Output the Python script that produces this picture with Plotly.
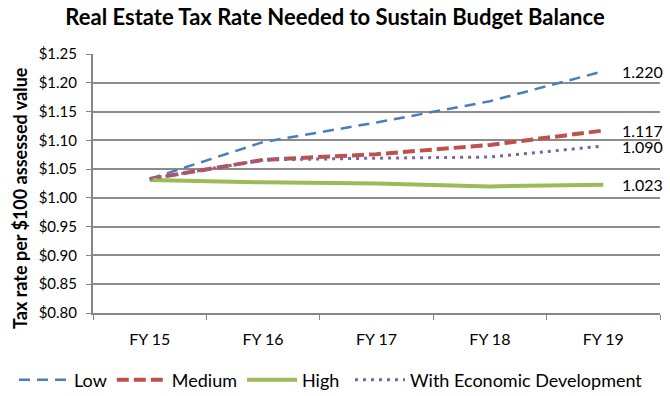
import plotly.graph_objects as go

categories = ["FY 15", "FY 16", "FY 17", "FY 18", "FY 19"]
low = [1.033, 1.097, 1.131, 1.168, 1.220]
medium = [1.033, 1.066, 1.076, 1.092, 1.117]
high = [1.031, 1.027, 1.025, 1.020, 1.023]
econ = [1.033, 1.066, 1.069, 1.071, 1.090]
end_labels = ["1.220", "1.117", "1.090", "1.023"]

y_ticks = [0.80, 0.85, 0.90, 0.95, 1.00, 1.05, 1.10, 1.15, 1.20, 1.25]
y_tick_text = ["$%.2f" % v for v in y_ticks]

FONT = "Lato, Calibri, Carlito, sans-serif"

series = [
    ("Low", low, dict(color="#4A7EBB", width=2.5, dash="11px,7px"), "legend"),
    ("Medium", medium, dict(color="#C0504D", width=4, dash="12px,5px"), "legend"),
    ("High", high, dict(color="#9BBB59", width=4), "legend"),
    ("With Economic Development", econ, dict(color="#7F63A1", width=3, dash="3px,5px"), "legend2"),
]

fig = go.Figure()
for name, vals, line, leg in series:
    fig.add_trace(go.Scatter(x=categories, y=vals, mode="lines", name=name,
                             line=line, legend=leg))

label_series = [low, medium, econ, high]
for vals, txt in zip(label_series, end_labels):
    fig.add_annotation(x=categories[-1], y=vals[-1], text=txt, showarrow=False,
                       xanchor="left", yanchor="middle", xshift=17,
                       font=dict(family=FONT, size=16, color="#000000"))

# y-axis title (as annotation to match its position)
fig.add_annotation(xref="paper", yref="paper", x=-73 / 567, y=(313 - 198) / 259,
                   text="<b>Tax rate per $100 assessed value</b>", textangle=-90,
                   showarrow=False, xanchor="center", yanchor="middle",
                   font=dict(family=FONT, size=18, color="#000000"))

legend_common = dict(orientation="h", xanchor="left", xref="container",
                     y=-67 / 259, yanchor="middle",
                     font=dict(family=FONT, size=18, color="#000000"),
                     bgcolor="rgba(0,0,0,0)", itemwidth=50)

fig.update_layout(
    width=670, height=396,
    margin=dict(l=93, r=10, t=54, b=83, autoexpand=False),
    paper_bgcolor="white", plot_bgcolor="white",
    title=dict(text="<b>Real Estate Tax Rate Needed to Sustain Budget Balance</b>",
               x=0.5, xanchor="center", xref="container", y=1 - 17 / 396,
               yanchor="middle",
               font=dict(family=FONT, size=22, color="#000000")),
    font=dict(family=FONT, size=15, color="#000000"),
    showlegend=True,
    legend=dict(x=14 / 670, **legend_common),
    legend2=dict(x=350 / 670, **legend_common),
)
fig.update_xaxes(
    type="category", range=[-0.5, 4.5], showgrid=False,
    showline=True, linecolor="#868686", linewidth=2,
    ticks="outside", ticklen=5, tickcolor="#868686", tickson="boundaries",
    ticklabelstandoff=11,
    tickfont=dict(family=FONT, size=16), zeroline=False,
)
fig.update_yaxes(
    range=[0.80, 1.25], tickvals=y_ticks, ticktext=y_tick_text,
    showgrid=True, gridcolor="#8C8C8C", gridwidth=1.5,
    showline=True, linecolor="#868686", linewidth=2,
    ticks="outside", ticklen=5, tickcolor="#868686", ticklabelstandoff=6,
    tickfont=dict(family=FONT, size=15), zeroline=False,
)

fig.write_html("out.html", config={"displayModeBar": False},
               post_script="document.body.style.margin='0';")
